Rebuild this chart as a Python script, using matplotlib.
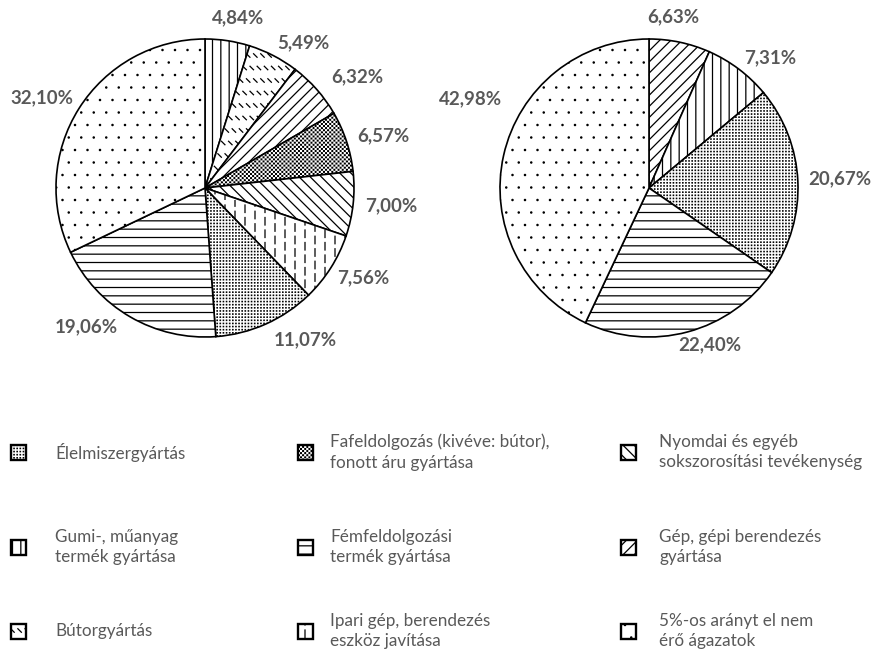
import warnings
warnings.filterwarnings('ignore')
import numpy as np
import matplotlib
matplotlib.use('Agg')
import matplotlib.pyplot as plt
import matplotlib.hatch as mhatch
from matplotlib.path import Path
from matplotlib.patches import Rectangle

# ---------------- data ----------------
left_cats = ['gumi', 'butor', 'gep', 'fa', 'nyomda', 'ipari', 'elelmiszer', 'fem', 'egyeb']
left_values = [4.84, 5.49, 6.32, 6.57, 7.00, 7.56, 11.07, 19.06, 32.10]

right_cats = ['gep', 'gumi', 'elelmiszer', 'fem', 'egyeb']
right_values = [6.63, 7.31, 20.67, 22.40, 42.98]

legend_keys = ['elelmiszer', 'fa', 'nyomda',
               'gumi', 'fem', 'gep',
               'butor', 'ipari', 'egyeb']
legend_texts = ['Élelmiszergyártás',
                'Fafeldolgozás (kivéve: bútor),\nfonott áru gyártása',
                'Nyomdai és egyéb\nsokszorosítási tevékenység',
                'Gumi-, műanyag\ntermék gyártása',
                'Fémfeldolgozási\ntermék gyártása',
                'Gép, gépi berendezés\ngyártása',
                'Bútorgyártás',
                'Ipari gép, berendezés\neszköz javítása',
                '5%-os arányt el nem\nérő ágazatok']

# ---------------- custom hatches (style) ----------------
class DashedVertical(mhatch.HatchPatternBase):
    def __init__(self, hatch, density):
        self.num_lines = 10 * hatch.count('v')
        self.num_dash = 8
        self.num_vertices = self.num_lines * self.num_dash * 2

    def set_vertices_and_codes(self, vertices, codes):
        k = 0
        for i in range(self.num_lines):
            x = (i + 0.5) / self.num_lines
            shift = 0.5 if i % 2 else 0.0
            for j in range(self.num_dash):
                y0 = (j + shift) / self.num_dash
                y1 = min(y0 + 0.6 / self.num_dash, 1.0)
                vertices[k] = (x, y0); codes[k] = Path.MOVETO
                vertices[k + 1] = (x, y1); codes[k + 1] = Path.LINETO
                k += 2


class DashedDiag(mhatch.HatchPatternBase):
    def __init__(self, hatch, density):
        self.rows = 8 * hatch.count('d')
        self.per_row = 14
        self.num_vertices = self.rows * self.per_row * 2

    def set_vertices_and_codes(self, vertices, codes):
        k = 0
        L = 0.035
        for r in range(self.rows):
            y = (r + 0.7) / self.rows
            shift = 0.5 if r % 2 else 0.0
            for j in range(self.per_row):
                x = (j + shift) / self.per_row
                vertices[k] = (x, y); codes[k] = Path.MOVETO
                vertices[k + 1] = (min(x + L, 1.0), y - L); codes[k + 1] = Path.LINETO
                k += 2


class SquareGrid(mhatch.HatchPatternBase):
    """Small filled squares on a grid; checker=True keeps every other cell."""
    char = ''
    n = 1
    frac = 0.2
    checker = False

    def __init__(self, hatch, density):
        cnt = hatch.count(self.char)
        self.cells = []
        if cnt:
            n = self.n
            for r in range(n):
                for j in range(n):
                    if not self.checker or (r + j) % 2 == 0:
                        self.cells.append((j, r))
        self.num_vertices = len(self.cells) * 5

    def set_vertices_and_codes(self, vertices, codes):
        n = self.n
        s = self.frac / n
        k = 0
        for (j, r) in self.cells:
            cx = (j + 0.5) / n
            cy = (r + 0.5) / n
            pts = [(cx - s / 2, cy - s / 2), (cx + s / 2, cy - s / 2),
                   (cx + s / 2, cy + s / 2), (cx - s / 2, cy + s / 2),
                   (cx - s / 2, cy - s / 2)]
            vertices[k:k + 5] = pts
            codes[k:k + 5] = [Path.MOVETO, Path.LINETO, Path.LINETO,
                              Path.LINETO, Path.CLOSEPOLY]
            k += 5


class DenseDots(SquareGrid):
    char = 'q'
    n = 32
    frac = 0.12


class Checker(SquareGrid):
    char = 'c'
    n = 48
    frac = 0.35
    checker = True


class SparseDots(mhatch.Circles):
    size = 0.05
    filled = True

    def __init__(self, hatch, density):
        self.num_rows = hatch.count('p') * 8
        super().__init__(hatch, density)


mhatch._hatch_types.extend([DashedVertical, DashedDiag, SparseDots, DenseDots, Checker])

hatch_of = {
    'gumi': '||',
    'butor': 'd',
    'gep': '///',
    'fa': 'c',
    'nyomda': '\\\\\\',
    'ipari': 'v',
    'elelmiszer': 'q',
    'fem': '--',
    'egyeb': 'p',
}

plt.rcParams['hatch.linewidth'] = 0.9
plt.rcParams['font.family'] = ['Lato', 'DejaVu Sans']

W, H = 873, 654
fig = plt.figure(figsize=(W / 100, H / 100), dpi=100)
ax = fig.add_axes([0, 0, 1, 1])

label_color = '#595959'

# label nudges in px (layout only)
left_nudge = {'butor': (12, -4), 'gep': (12, 0), 'elelmiszer': (24, 2),
              'fem': (-25, 7), 'egyeb': (-5, 0), 'gumi': (5, 4)}
right_nudge = {'egyeb': (4, 52), 'gumi': (8, -4), 'gep': (-14, 6), 'fem': (12, 6),
               'elelmiszer': (4, 2)}


def draw_pie(values, cats, cx, cy, R, nudge):
    wedges, _ = ax.pie(values, center=(cx, cy), radius=R, startangle=90,
                       counterclock=False,
                       wedgeprops=dict(edgecolor='black', linewidth=1.2,
                                       facecolor='white'))
    for w, c, v in zip(wedges, cats, values):
        w.set_hatch(hatch_of[c])
        a = np.deg2rad((w.theta1 + w.theta2) / 2)
        ca, sa = np.cos(a), np.sin(a)
        dx, dy = nudge.get(c, (0, 0))
        x = cx + (1.07 * R + 28) * ca + dx
        y = cy + (1.07 * R + 9) * sa + dy
        ax.text(x, y, f'{v:.2f}%'.replace('.', ','), ha='center', va='center',
                fontsize=13.5, fontweight='bold', color=label_color)


draw_pie(left_values, left_cats, 205, H - 188, 149, left_nudge)
draw_pie(right_values, right_cats, 649, H - 188, 149, right_nudge)

# ---------------- legend ----------------
col_sw = [11, 298, 621]
col_tx = [55, 330, 659]
row_y = [452, 547, 631]
sw = 15
for i, (key, txt) in enumerate(zip(legend_keys, legend_texts)):
    r, c = divmod(i, 3)
    yc = H - row_y[r]
    ax.add_patch(Rectangle((col_sw[c], yc - sw / 2), sw, sw, facecolor='white',
                           edgecolor='black', linewidth=1.7, hatch=hatch_of[key]))
    ax.text(col_tx[c], yc, txt, ha='left', va='center', fontsize=12.3,
            color=label_color, linespacing=1.35)

ax.set_xlim(0, W)
ax.set_ylim(0, H)
ax.set_aspect('equal')
ax.axis('off')

fig.savefig('out.png', dpi=100, facecolor='white')
